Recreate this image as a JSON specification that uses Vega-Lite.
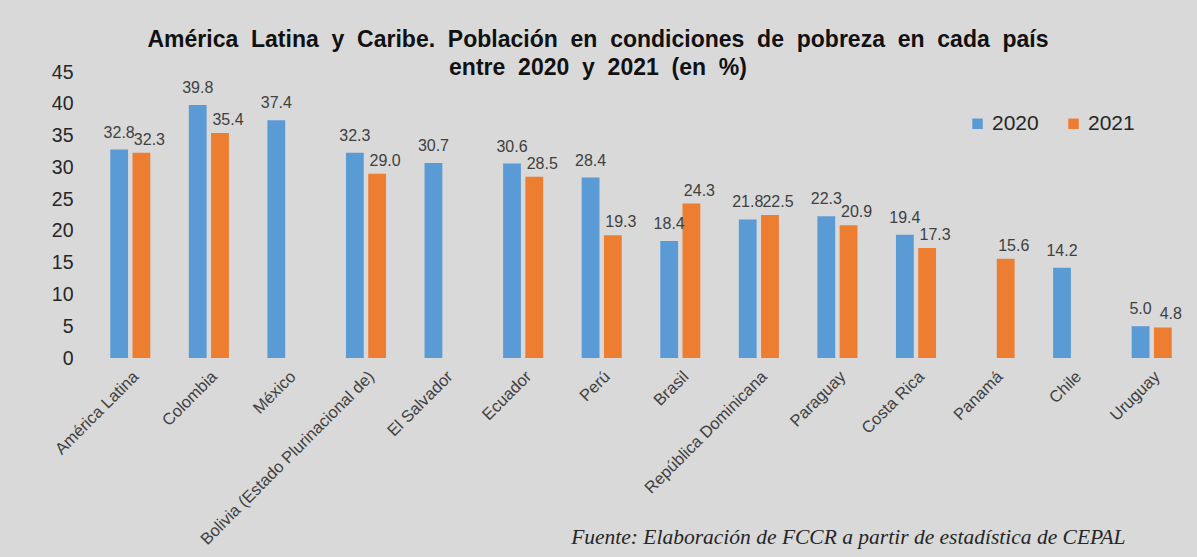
{
  "$schema": "https://vega.github.io/schema/vega-lite/v6.json",
  "width": 1100,
  "height": 286,
  "autosize": {"type": "none"},
  "padding": {"left": 91, "top": 72, "right": 6, "bottom": 199},
  "background": "#d9d9d9",
  "title": {
    "text": ["América \u00a0Latina \u00a0y \u00a0Caribe. \u00a0Población \u00a0en \u00a0condiciones \u00a0de \u00a0pobreza \u00a0en \u00a0cada \u00a0país", "entre \u00a02020 \u00a0y \u00a02021 \u00a0(en \u00a0%)"],
    "font": "Liberation Sans",
    "fontSize": 23,
    "fontWeight": "bold",
    "color": "#111111",
    "anchor": "middle",
    "dx": -43,
    "offset": -18,
    "lineHeight": 28
  },
  "config": {
    "view": {"stroke": null},
    "font": "Liberation Sans"
  },
  "data": {
    "values": [
      {"country": "América Latina", "year": "2020", "value": 32.8},
      {"country": "América Latina", "year": "2021", "value": 32.3},
      {"country": "Colombia", "year": "2020", "value": 39.8},
      {"country": "Colombia", "year": "2021", "value": 35.4},
      {"country": "México", "year": "2020", "value": 37.4},
      {"country": "Bolivia (Estado Plurinacional de)", "year": "2020", "value": 32.3},
      {"country": "Bolivia (Estado Plurinacional de)", "year": "2021", "value": 29.0},
      {"country": "El Salvador", "year": "2020", "value": 30.7},
      {"country": "Ecuador", "year": "2020", "value": 30.6},
      {"country": "Ecuador", "year": "2021", "value": 28.5},
      {"country": "Perú", "year": "2020", "value": 28.4},
      {"country": "Perú", "year": "2021", "value": 19.3},
      {"country": "Brasil", "year": "2020", "value": 18.4},
      {"country": "Brasil", "year": "2021", "value": 24.3},
      {"country": "República Dominicana", "year": "2020", "value": 21.8},
      {"country": "República Dominicana", "year": "2021", "value": 22.5},
      {"country": "Paraguay", "year": "2020", "value": 22.3},
      {"country": "Paraguay", "year": "2021", "value": 20.9},
      {"country": "Costa Rica", "year": "2020", "value": 19.4},
      {"country": "Costa Rica", "year": "2021", "value": 17.3},
      {"country": "Panamá", "year": "2021", "value": 15.6},
      {"country": "Chile", "year": "2020", "value": 14.2},
      {"country": "Uruguay", "year": "2020", "value": 5.0},
      {"country": "Uruguay", "year": "2021", "value": 4.8}
    ]
  },
  "encoding": {
    "x": {
      "field": "country",
      "type": "nominal",
      "sort": null,
      "scale": {"paddingInner": 0.49, "paddingOuter": 0.245},
      "axis": {
        "labelAngle": -45,
        "labelAlign": "right",
        "labelBaseline": "top",
        "labelFontSize": 16.5,
        "labelColor": "#404040",
        "labelPadding": 10,
        "labelLimit": 400,
        "domain": false,
        "ticks": false,
        "title": "Fuente: Elaboración de FCCR a partir de estadística de CEPAL",
        "titleFont": "Liberation Serif",
        "titleFontStyle": "italic",
        "titleFontWeight": "normal",
        "titleFontSize": 21.5,
        "titleColor": "#262626",
        "titleAlign": "right",
        "titleBaseline": "alphabetic",
        "titleX": 1034,
        "titleY": 185
      }
    },
    "xOffset": {
      "field": "year",
      "type": "nominal",
      "scale": {"domain": ["2020", "2021"], "paddingInner": 0.2, "paddingOuter": 0}
    },
    "y": {
      "field": "value",
      "type": "quantitative",
      "scale": {"domain": [0, 45], "nice": false},
      "axis": {
        "values": [0, 5, 10, 15, 20, 25, 30, 35, 40, 45],
        "grid": false,
        "domain": false,
        "ticks": false,
        "labelPadding": 18,
        "labelFontSize": 19.5,
        "labelColor": "#262626",
        "title": null
      }
    }
  },
  "layer": [
    {
      "mark": {"type": "bar"},
      "encoding": {
        "color": {
          "field": "year",
          "type": "nominal",
          "scale": {"domain": ["2020", "2021"], "range": ["#5b9bd5", "#ed7d31"]},
          "legend": {
            "title": null,
            "orient": "none",
            "legendX": 876,
            "legendY": 41,
            "direction": "horizontal",
            "symbolType": "square",
            "symbolSize": 110,
            "symbolStrokeWidth": 0,
            "labelFontSize": 21,
            "labelColor": "#262626",
            "labelOffset": 4,
            "columnPadding": 24
          }
        }
      }
    },
    {
      "transform": [{"filter": "datum.year == '2020'"}],
      "mark": {"type": "text", "baseline": "alphabetic", "dy": -12, "fontSize": 16, "color": "#404040"},
      "encoding": {
        "text": {"field": "value", "type": "quantitative", "format": ".1f"}
      }
    },
    {
      "transform": [{"filter": "datum.year == '2021'"}],
      "mark": {"type": "text", "baseline": "alphabetic", "dy": -8, "dx": 8, "fontSize": 16, "color": "#404040"},
      "encoding": {
        "text": {"field": "value", "type": "quantitative", "format": ".1f"}
      }
    }
  ]
}
